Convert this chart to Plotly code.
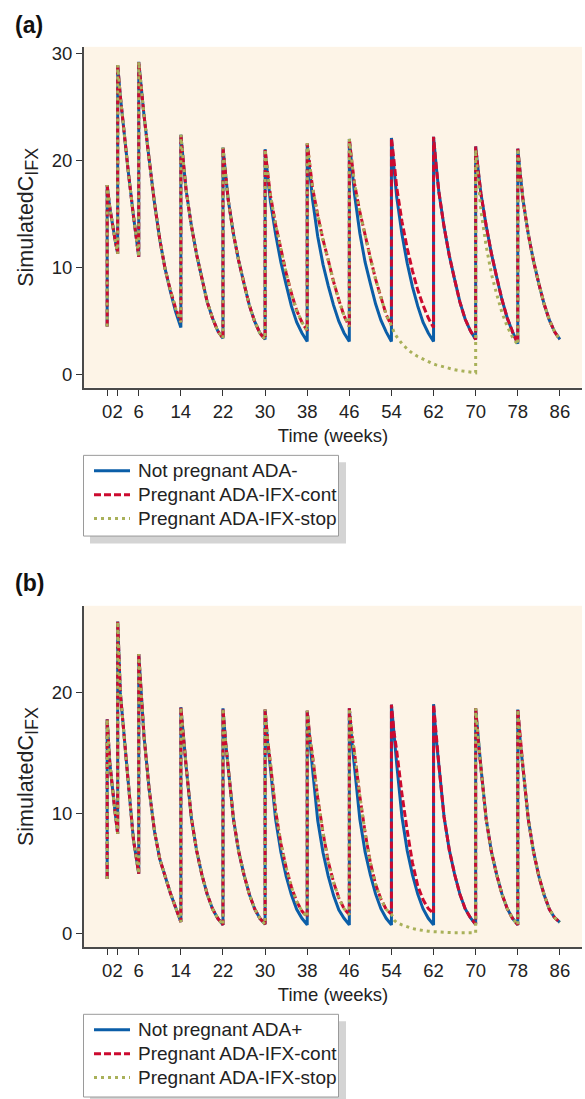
import plotly.graph_objects as go

# ---------------- data ----------------
dose_weeks = [0, 2, 6, 14, 22, 30, 38, 46, 54, 62, 70, 78]
offsets_first = [0, 0.5, 1, 1.5, 2]
offsets_second = [0, 0.5, 1, 2, 3, 4]
offsets_cycle = [0, 0.5, 1, 2, 3, 4, 5, 6, 7, 8]
x_ticks = [0, 2, 6, 14, 22, 30, 38, 46, 54, 62, 70, 78, 86]

# panel (a): ADA-
a_base = 4.5
a_common = [
    [17.7, 15.6, 14.0, 12.6, 11.3],
    [28.9, 26.0, 23.6, 19.0, 14.8, 11.0],
]
a_blue_c2 = [29.2, 26.5, 24.2, 20.0, 16.0, 12.6, 9.9, 7.8, 5.9, 4.4]
a_preg_c2 = [29.2, 26.5, 24.2, 20.0, 16.0, 12.6, 9.9, 7.9, 6.2, 4.9]
a_c3 = [22.4, 19.7, 17.2, 13.9, 11.2, 9.0, 6.8, 5.3, 4.1, 3.4]
a_c4 = [21.2, 18.7, 16.3, 13.1, 10.6, 8.5, 6.5, 5.0, 3.9, 3.3]
a_blue_c5 = [21.05, 18.5, 16.2, 13.1, 10.5, 8.4, 6.4, 4.9, 3.9, 3.1]
a_blue_c6 = [21.5, 18.9, 16.4, 12.9, 10.3, 8.3, 6.5, 5.0, 3.9, 3.1]
a_blue_c7 = [22.0, 19.3, 16.8, 13.2, 10.5, 8.5, 6.6, 5.1, 4.0, 3.1]
a_blue_c8 = [22.1, 19.2, 16.6, 13.1, 10.4, 8.2, 6.4, 4.9, 3.9, 3.1]
a_c9 = [22.2, 19.5, 17.1, 13.8, 11.1, 8.9, 6.8, 5.2, 4.1, 3.3]
a_blue_c10 = [21.3, 19.0, 16.9, 13.9, 11.3, 9.1, 7.0, 5.3, 4.0, 2.9]
a_c11 = [21.1, 18.6, 16.3, 13.1, 10.6, 8.5, 6.6, 5.1, 4.0, 3.3]
a_preg_c5 = [21.05, 18.8, 16.8, 14.0, 11.6, 9.5, 7.6, 6.0, 4.9, 4.1]
a_preg_c6 = [21.6, 19.4, 17.5, 14.9, 12.6, 10.7, 8.7, 7.0, 5.5, 4.5]
a_preg_c7 = [22.0, 19.8, 17.8, 15.2, 12.9, 10.9, 8.9, 7.15, 5.6, 4.6]
a_cont_c8 = [22.1, 19.9, 17.5, 14.3, 11.8, 9.7, 7.9, 6.5, 5.3, 4.4]
a_stop_c8 = [4.6, 3.95, 3.55, 2.9, 2.4, 2.0, 1.7, 1.45, 1.2, 1.0]
a_stop_c9 = [1.0, 0.92, 0.85, 0.7, 0.58, 0.47, 0.38, 0.3, 0.24, 0.19]
a_stop_c10 = [21.0, 18.0, 15.3, 12.0, 9.4, 7.5, 5.8, 4.5, 3.5, 2.8]

a_blue = a_common + [a_blue_c2, a_c3, a_c4, a_blue_c5, a_blue_c6, a_blue_c7,
                     a_blue_c8, a_c9, a_blue_c10, a_c11]
a_cont = a_common + [a_preg_c2, a_c3, a_c4, a_preg_c5, a_preg_c6, a_preg_c7,
                     a_cont_c8, a_c9, a_blue_c10, a_c11]
a_stop = a_common + [a_preg_c2, a_c3, a_c4, a_preg_c5, a_preg_c6, a_preg_c7,
                     a_stop_c8, a_stop_c9, a_stop_c10, a_c11]

# panel (b): ADA+
b_base = 4.55
b_common = [
    [17.8, 14.2, 12.0, 10.1, 8.3],
    [25.9, 20.0, 17.4, 12.6, 7.8, 5.0],
    [23.2, 19.3, 16.4, 11.9, 8.5, 6.2, 4.7, 3.4, 2.2, 1.0],
    [18.8, 16.0, 13.9, 9.6, 6.9, 4.9, 3.3, 2.1, 1.3, 0.75],
    [18.7, 15.9, 13.8, 9.5, 6.8, 4.9, 3.3, 2.1, 1.3, 0.8],
]
b_blue_c5 = [18.6, 15.8, 13.8, 9.5, 6.8, 4.8, 3.25, 2.05, 1.3, 0.75]
b_blue_c6 = [18.5, 15.7, 13.7, 9.4, 6.75, 4.8, 3.2, 2.0, 1.3, 0.75]
b_blue_c7 = [18.7, 15.9, 13.8, 9.5, 6.8, 4.9, 3.3, 2.1, 1.3, 0.75]
b_blue_c8 = [19.0, 16.2, 14.1, 9.7, 6.9, 4.9, 3.3, 2.1, 1.3, 0.75]
b_c9 = [19.05, 16.2, 14.1, 9.7, 6.95, 4.95, 3.3, 2.1, 1.35, 0.8]
b_c10 = [18.7, 15.9, 13.8, 9.5, 6.8, 4.9, 3.3, 2.1, 1.3, 0.75]
b_c11 = [18.6, 15.8, 13.8, 9.5, 6.8, 4.8, 3.25, 2.05, 1.35, 0.96]
b_preg_c5 = [18.6, 16.0, 14.2, 10.2, 7.5, 5.5, 3.9, 2.7, 1.9, 1.4]
b_preg_c6 = [18.5, 16.3, 14.8, 11.3, 8.4, 6.0, 4.3, 3.0, 2.1, 1.6]
b_preg_c7 = [18.7, 16.5, 15.0, 11.4, 8.4, 5.9, 4.1, 2.9, 2.05, 1.65]
b_cont_c8 = [19.0, 16.7, 15.2, 11.6, 8.55, 5.9, 4.0, 2.85, 2.1, 1.7]
b_stop_c8 = [1.65, 1.15, 0.95, 0.75, 0.58, 0.45, 0.36, 0.28, 0.23, 0.19]
b_stop_c9 = [0.19, 0.17, 0.16, 0.14, 0.12, 0.11, 0.1, 0.1, 0.1, 0.1]

b_blue = b_common + [b_blue_c5, b_blue_c6, b_blue_c7, b_blue_c8, b_c9, b_c10, b_c11]
b_cont = b_common + [b_preg_c5, b_preg_c6, b_preg_c7, b_cont_c8, b_c9, b_c10, b_c11]
b_stop = b_common + [b_preg_c5, b_preg_c6, b_preg_c7, b_stop_c8, b_stop_c9, b_c10, b_c11]

series_names_a = ["Not pregnant ADA-", "Pregnant ADA-IFX-cont", "Pregnant ADA-IFX-stop"]
series_names_b = ["Not pregnant ADA+", "Pregnant ADA-IFX-cont", "Pregnant ADA-IFX-stop"]

# ---------------- helpers ----------------
def build_xy(base, segments):
    xs, ys = [dose_weeks[0]], [base]
    for i, (T, seg) in enumerate(zip(dose_weeks, segments)):
        offs = offsets_first if i == 0 else offsets_second if i == 1 else offsets_cycle
        for o, v in zip(offs, seg):
            xs.append(T + o)
            ys.append(v)
    return xs, ys

W, H = 585, 1099
def px_x(p):
    return p / W
def px_y(p):
    return 1 - p / H

BLUE = "#0b5ea8"
RED = "#cc0a2f"
GREEN = "#a9b15a"
FONT = "Liberation Sans, Arial, sans-serif"
TXT = "#222222"

styles = [
    dict(color=BLUE, width=3, dash="solid"),
    dict(color=RED, width=3, dash="7px,3px"),
    dict(color=GREEN, width=3, dash="3px,4px"),
]

fig = go.Figure()

for k, (segs, name) in enumerate(zip([a_blue, a_cont, a_stop], series_names_a)):
    x, y = build_xy(a_base, segs)
    fig.add_trace(go.Scatter(x=x, y=y, mode="lines", name=name, line=styles[k],
                             xaxis="x", yaxis="y", showlegend=False))
for k, (segs, name) in enumerate(zip([b_blue, b_cont, b_stop], series_names_b)):
    x, y = build_xy(b_base, segs)
    fig.add_trace(go.Scatter(x=x, y=y, mode="lines", name=name, line=styles[k],
                             xaxis="x2", yaxis="y2", showlegend=False))

axis_common = dict(showline=True, linecolor="#4a4a4a", linewidth=2, ticks="outside",
                   ticklen=6, tickwidth=1, tickcolor="#333333", showgrid=False,
                   zeroline=False, tickangle=0,
                   tickfont=dict(family=FONT, size=18.5, color=TXT))

ytitle = "SimulatedC<sub><span style='font-size:18px'>IFX</span></sub>"
xdom = [px_x(84), px_x(582)]

# ---- hand-drawn legends (box with drop shadow, line samples, labels) ----
shapes = []
annotations = []
legend_specs = [(453, 534, series_names_a), (1014, 1097, series_names_b)]
for top, bottom, names in legend_specs:
    shapes.append(dict(type="rect", xref="paper", yref="paper",
                       x0=px_x(90), x1=px_x(346), y0=px_y(bottom + 7.5), y1=px_y(top + 7),
                       fillcolor="#d4d4d4", line=dict(width=0), layer="above"))
    shapes.append(dict(type="rect", xref="paper", yref="paper",
                       x0=px_x(83.5), x1=px_x(338.5), y0=px_y(bottom), y1=px_y(top),
                       fillcolor="white", line=dict(color="#9a9a9a", width=1), layer="above"))
    for j, name in enumerate(names):
        yc = top + 15.5 + 24 * j
        st = styles[j]
        shapes.append(dict(type="line", xref="paper", yref="paper",
                           x0=px_x(94), x1=px_x(130), y0=px_y(yc), y1=px_y(yc),
                           line=dict(color=st["color"], width=st["width"], dash=st["dash"]),
                           layer="above"))
        annotations.append(dict(text=name, x=px_x(136), y=px_y(yc), xref="paper", yref="paper",
                                xanchor="left", yanchor="middle", showarrow=False,
                                font=dict(family=FONT, size=19, color=TXT)))

annotations += [
    dict(text="<b>(a)</b>", x=px_x(13), y=px_y(21), xref="paper", yref="paper",
         xanchor="left", yanchor="middle", showarrow=False,
         font=dict(family=FONT, size=23, color="#111111")),
    dict(text="<b>(b)</b>", x=px_x(13), y=px_y(581), xref="paper", yref="paper",
         xanchor="left", yanchor="middle", showarrow=False,
         font=dict(family=FONT, size=23, color="#111111")),
]

fig.update_layout(
    width=W, height=H,
    margin=dict(l=0, r=0, t=0, b=0),
    paper_bgcolor="white",
    plot_bgcolor="#fdf4e7",
    font=dict(family=FONT, size=18.5, color=TXT),
    showlegend=False,
    xaxis=dict(domain=xdom, range=[-4.4, 90.2], tickvals=x_ticks,
               ticktext=[str(t) for t in x_ticks], anchor="y",
               title=dict(text="Time (weeks)", font=dict(size=18.5), standoff=8),
               **axis_common),
    yaxis=dict(domain=[px_y(385), px_y(43)], range=[-1.2, 30.6], tickvals=[0, 10, 20, 30],
               anchor="x",
               title=dict(text=ytitle, font=dict(size=21.5), standoff=12),
               **axis_common),
    xaxis2=dict(domain=xdom, range=[-4.4, 90.2], tickvals=x_ticks,
                ticktext=[str(t) for t in x_ticks], anchor="y2",
                title=dict(text="Time (weeks)", font=dict(size=18.5), standoff=8),
                **axis_common),
    yaxis2=dict(domain=[px_y(946.7), px_y(604)], range=[-1.1, 27.2], tickvals=[0, 10, 20],
                anchor="x2",
                title=dict(text=ytitle, font=dict(size=21.5), standoff=12),
                **axis_common),
    annotations=annotations,
    shapes=shapes,
)

fig.write_html("out.html")
